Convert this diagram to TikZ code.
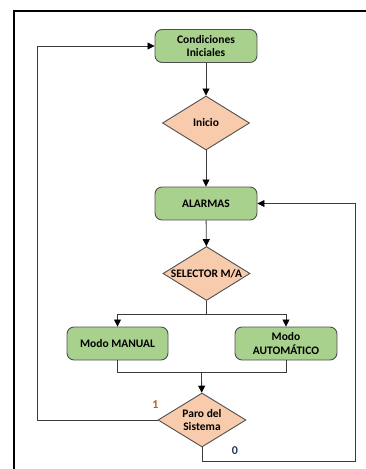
\documentclass[tikz,border=0pt]{standalone}
\usepackage{fontspec}
\setmainfont{Carlito}
\usetikzlibrary{shapes.geometric,arrows.meta}
\definecolor{boxgreen}{HTML}{A9D18E}
\definecolor{diaorange}{HTML}{F8CBAD}
\definecolor{edgegray}{HTML}{505050}
\definecolor{lineg}{HTML}{3A3A3A}
\definecolor{labone}{HTML}{C55A11}
\definecolor{labzero}{HTML}{1F3864}
\tikzset{
  procbox/.style={draw=edgegray, line width=0.9pt, fill=boxgreen, rounded corners=7pt,
    minimum width=102pt, minimum height=33pt, inner sep=1pt, align=center,
    font=\fontsize{11.5}{13.5}\selectfont\bfseries},
  decbox/.style={draw=edgegray, line width=0.9pt, fill=diaorange, diamond, aspect=1.6,
    minimum width=87pt, minimum height=54pt, inner sep=0pt, align=center,
    font=\fontsize{11.5}{13.5}\selectfont\bfseries},
  conn/.style={draw=lineg, line width=0.8pt},
  arr/.style={conn, -{Triangle[length=7pt,width=7pt,fill=black,color=black]}},
}
\begin{document}
\begin{tikzpicture}[x=1pt,y=-1pt]
\useasboundingbox (0,0) rectangle (366,469);
% frame
\draw[line width=1.6pt] (366,11) -- (14,11) -- (14,469);
% nodes
\node[procbox] (ci) at (206,46) {Condiciones\\Iniciales};
\node[decbox] (ini) at (206,123) {Inicio};
\node[procbox] (al) at (206,203.5) {ALARMAS};
\node[decbox] (sel) at (206.5,273.5) {SELECTOR M/A};
\node[procbox, minimum width=101pt] (man) at (117.5,343.5) {Modo MANUAL};
\node[procbox, minimum width=102pt] (aut) at (286,343.5) {Modo\\AUTOMÁTICO};
\node[decbox, minimum width=88pt] (paro) at (202,420) {Paro del\\Sistema};
% helper coordinates
\coordinate (split) at (206.5,314);
\coordinate (join) at (201.5,372);
\coordinate (lft) at (37,420);
\coordinate (lftT) at (37,46);
\coordinate (bot) at (202,461);
\coordinate (rgt) at (355,461);
\coordinate (rgtT) at (355,203.5);
% connectors
\draw[arr] (ci) -- (ini);
\draw[arr] (ini) -- (al);
\draw[arr] (al) -- (sel);
\draw[conn] (sel) -- (split);
\draw[arr] (split) -| (man);
\draw[arr] (split) -| (aut);
\draw[conn] (man.south) |- (join);
\draw[conn] (aut.south) |- (join);
\draw[arr] (join) -- (paro);
\draw[arr] (paro.west) -- (lft) -- (lftT) -- (ci.west);
\draw[arr] (paro.south) -- (bot) -- (rgt) -- (rgtT) -- (al.east);
% labels
\node[text=labone, font=\fontsize{12}{13}\selectfont\bfseries] (l1) at (155.5,404.5) {1};
\node[text=labzero, font=\fontsize{12}{13}\selectfont\bfseries] (l0) at (235,451) {0};
\end{tikzpicture}
\end{document}
